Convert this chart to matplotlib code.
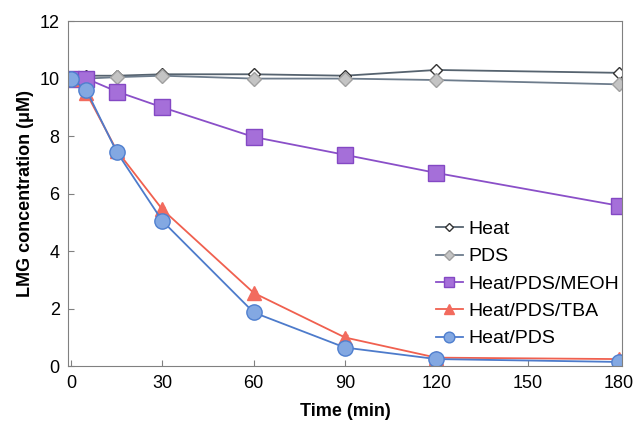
import matplotlib
matplotlib.use("Agg")
import matplotlib.pyplot as plt
import numpy as np

plt.rcParams['font.family'] = ['Liberation Sans', 'DejaVu Sans']

time = [0, 5, 15, 30, 60, 90, 120, 180]
heat = [10.0, 10.1, 10.1, 10.15, 10.15, 10.1, 10.3, 10.2]
pds = [10.0, 10.0, 10.05, 10.1, 10.0, 10.0, 9.95, 9.8]
heat_pds_meoh = [10.0, 10.0, 9.55, 9.0, 7.97, 7.35, 6.72, 5.58]
heat_pds_tba = [10.0, 9.5, 7.5, 5.45, 2.55, 1.0, 0.3, 0.25]
heat_pds = [10.0, 9.6, 7.45, 5.05, 1.87, 0.65, 0.25, 0.15]
err_meoh = [0.1, 0.1, 0.15, 0.2, 0.15, 0.12, 0.1, 0.1]
err_small = [0.08, 0.08, 0.1, 0.1, 0.08, 0.08, 0.05, 0.05]

x_ticks = [0, 30, 60, 90, 120, 150, 180]
y_ticks = [0, 2, 4, 6, 8, 10, 12]

fig, ax = plt.subplots(figsize=(6.36, 4.21), dpi=100)
fig.subplots_adjust(left=0.107, right=0.978, top=0.95, bottom=0.13)

series = [
    ("Heat", heat, None, dict(marker='D', ms=6, mfc='white', mec='#333333', color='#56636f')),
    ("PDS", pds, None, dict(marker='D', ms=7, mfc='#c4c4c4', mec='#a0a0a0', color='#6d7c8c')),
    ("Heat/PDS/MEOH", heat_pds_meoh, err_meoh, dict(marker='s', ms=11, mfc='#a56fd9', mec='#8448c4', color='#8a4fc8')),
    ("Heat/PDS/TBA", heat_pds_tba, err_small, dict(marker='^', ms=10, mfc='#f26b5e', mec='#f26b5e', color='#f0604f')),
    ("Heat/PDS", heat_pds, err_small, dict(marker='o', ms=11, mfc='#83a8e2', mec='#4f7fcf', color='#4d7bcb')),
]

for label, vals, err, style in series:
    if err is not None:
        ax.errorbar(time, vals, yerr=err, fmt='none', capsize=2.5,
                    ecolor=style['color'], elinewidth=1)
    ax.plot(time, vals, label=label, lw=1.3, **style)

ax.set_xlim(-1, 181)
ax.set_ylim(0, 12)
ax.set_xticks(x_ticks)
ax.set_yticks(y_ticks)
ax.tick_params(direction='in', labelsize=13, length=4, color='#808080', pad=6)
for s in ax.spines.values():
    s.set_color('#808080')
ax.set_xlabel("Time (min)", fontsize=13, fontweight='bold', labelpad=8)
ax.set_ylabel("LMG concentration (\u03bcM)", fontsize=13, fontweight='bold', labelpad=4)

ax.legend(loc='lower right', bbox_to_anchor=(1.02, 0.015), frameon=False,
          fontsize=14, handlelength=1.4, handletextpad=0.3, labelspacing=0.5,
          borderaxespad=0.3, markerscale=0.7)

fig.savefig("out.png", dpi=100)
